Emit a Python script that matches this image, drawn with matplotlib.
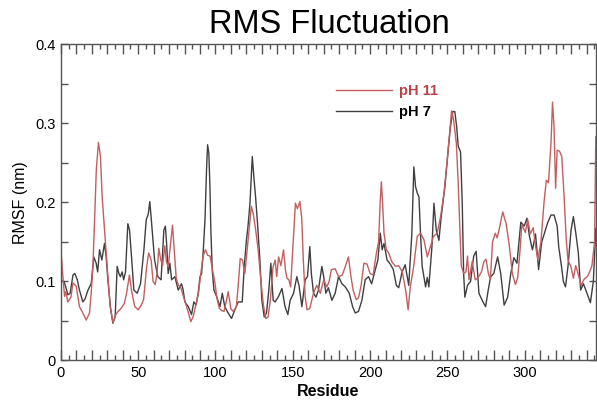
import matplotlib
matplotlib.use("Agg")
import matplotlib.pyplot as plt
from matplotlib.ticker import MultipleLocator, FuncFormatter

plt.rcParams["font.family"] = ["Liberation Sans", "DejaVu Sans"]

# pH 11 (red)
res_ph11 = [0, 1.3, 2.4, 3.2, 4.5, 6.5, 7.8, 9.9, 12, 14.2, 16.4, 18.5, 19.6, 20.7, 21.8, 22.9, 24.3, 25.6,
            26.7, 28.2, 29.3, 30.4, 31.9, 33.7, 35.5, 37, 39, 41, 42.5, 44.3, 46, 47.8, 50, 52, 53.5, 55.5,
            56.8, 58.4, 59.6, 61, 62.2, 63.3, 64.5, 65.8, 67.2, 68.3, 69.5, 70.5, 72.2, 73.3, 74.6, 76, 77.6,
            79.4, 81, 82.5, 84, 85.5, 87.5, 89, 90.5, 92, 93.5, 95, 96.5, 98, 99.5, 101, 102.5, 104, 105.5,
            107, 108.2, 110, 111.5, 113.5, 114.7, 116, 117.5, 119, 120.5, 121.8, 123.2, 124.5, 126, 127.6,
            129.5, 131, 132.5, 134, 135.5, 137.2, 138.6, 139.6, 140.8, 142.3, 144, 145.2, 146.2, 147.5,
            148.6, 150.3, 151.7, 153, 154.6, 155.8, 156.8, 158, 159.2, 161, 163.4, 165.5, 167.8, 170, 172,
            173.5, 175, 177.4, 179.6, 182, 184, 186, 187.5, 189, 191, 192.5, 194.2, 196, 198, 200, 202, 204,
            205.5, 206.5, 207.3, 208.2, 209, 210.5, 212, 214, 216.5, 218.5, 220.8, 223, 224.6, 226, 228.2,
            230.5, 232.6, 234.8, 237, 239, 241, 243.4, 245.6, 247.8, 249.9, 251.4, 252.7, 254, 255.8, 257,
            258, 259, 260.5, 262, 263, 264, 266, 268, 270, 272, 273.6, 275, 276.5, 277.8, 279.2, 281, 282.2,
            283.5, 285.8, 288, 290, 292, 294, 295.5, 296.8, 298.2, 300.4, 302, 303.6, 305.5, 307, 308.5,
            310.5, 312.5, 314, 315.4, 317, 318, 319, 320, 321, 322.5, 324, 325.7, 326.8, 328, 330, 331.5,
            333, 334.5, 336.5, 338.5, 340.5, 342, 343.5, 345.2, 346]
val_ph11 = [0.14, 0.106, 0.081, 0.087, 0.074, 0.080, 0.098, 0.094, 0.068, 0.060, 0.051, 0.060, 0.085, 0.119,
            0.178, 0.241, 0.276, 0.258, 0.207, 0.165, 0.136, 0.106, 0.068, 0.048, 0.058, 0.062, 0.066, 0.072,
            0.085, 0.108, 0.085, 0.068, 0.064, 0.070, 0.077, 0.119, 0.136, 0.127, 0.100, 0.096, 0.110, 0.142,
            0.128, 0.120, 0.145, 0.125, 0.118, 0.140, 0.171, 0.140, 0.104, 0.095, 0.092, 0.080, 0.070, 0.060,
            0.049, 0.055, 0.072, 0.085, 0.110, 0.132, 0.140, 0.133, 0.132, 0.115, 0.100, 0.078, 0.066, 0.063,
            0.062, 0.075, 0.087, 0.065, 0.062, 0.068, 0.095, 0.129, 0.127, 0.110, 0.140, 0.165, 0.195, 0.185,
            0.165, 0.140, 0.098, 0.070, 0.053, 0.055, 0.077, 0.118, 0.127, 0.106, 0.131, 0.120, 0.140, 0.115,
            0.104, 0.102, 0.093, 0.150, 0.199, 0.192, 0.201, 0.180, 0.127, 0.081, 0.064, 0.066, 0.085, 0.095,
            0.085, 0.102, 0.093, 0.100, 0.115, 0.116, 0.106, 0.108, 0.119, 0.131, 0.108, 0.089, 0.077, 0.079,
            0.095, 0.123, 0.122, 0.110, 0.108, 0.135, 0.150, 0.200, 0.226, 0.195, 0.161, 0.140, 0.136, 0.125,
            0.119, 0.120, 0.112, 0.089, 0.064, 0.093, 0.119, 0.157, 0.161, 0.153, 0.131, 0.144, 0.157, 0.161,
            0.182, 0.212, 0.254, 0.287, 0.316, 0.305, 0.275, 0.224, 0.170, 0.120, 0.110, 0.112, 0.132, 0.102,
            0.125, 0.102, 0.105, 0.112, 0.125, 0.128, 0.110, 0.102, 0.150, 0.161, 0.155, 0.166, 0.188, 0.173,
            0.146, 0.110, 0.096, 0.105, 0.135, 0.172, 0.162, 0.178, 0.160, 0.168, 0.145, 0.128, 0.150, 0.200,
            0.228, 0.225, 0.275, 0.327, 0.295, 0.218, 0.266, 0.265, 0.258, 0.200, 0.155, 0.127, 0.118, 0.104,
            0.120, 0.110, 0.095, 0.103, 0.106, 0.112, 0.120, 0.150, 0.283]

# pH 7 (black)
res_ph7 = [0, 2, 3, 4.5, 6, 7.8, 9, 10.6, 12, 14.2, 15.7, 17.5, 19.6, 21.3, 22.8, 23.8, 25, 26.5, 28.2, 29.3,
           30.4, 32, 33.6, 35.1, 36.4, 37.5, 38.5, 39.6, 40.6, 41.8, 43.3, 44.4, 45.5, 47.2, 49.4, 51.5, 53.7,
           55.2, 56.5, 57.5, 58.5, 60.6, 62.7, 64.8, 66.6, 67.6, 68.5, 69.4, 70.5, 71.6, 73.7, 75.9, 78, 79,
           80.2, 82.4, 84.5, 86, 87.4, 88.8, 90, 91, 92, 93.2, 94.2, 94.9, 95.7, 96.4, 97, 97.9, 99, 100.7,
           102.9, 104.4, 106, 108.2, 110.4, 112.5, 114.7, 117.3, 118.6, 120, 121, 122.3, 123.8, 125, 126,
           127.2, 128.7, 130, 131.5, 133, 134.5, 135.8, 137.3, 138.6, 140.8, 143, 145, 146.8, 148.3, 150.5,
           152.6, 154, 155.9, 158, 159.5, 161, 162, 163.4, 165, 166.6, 168.8, 170, 171.4, 173, 175.3, 177.4,
           179.6, 181.8, 184, 186.5, 188.7, 190.4, 192.5, 194.7, 196.8, 199, 201, 203.3, 205, 206.6, 207.8,
           209, 211, 213, 215, 217, 218.5, 220.7, 222.7, 225, 227, 228.3, 229.4, 230.5, 231.6, 232.6, 233.7,
           235.9, 237, 238, 240, 241.3, 242.8, 244.5, 246, 248.4, 250.5, 252, 253.5, 254.8, 256, 257, 258.5,
           259.6, 260.5, 261.3, 263, 265, 267, 268.6, 270.4, 272.5, 274.7, 276.5, 278, 280, 282.5, 284.5,
           286.7, 289, 291, 293, 295, 297.5, 299.7, 301.5, 303, 305, 307, 309, 311, 312.8, 314.8, 317, 319,
           321, 322, 323.8, 325, 326.4, 328, 330, 331.5, 333, 334.7, 336.2, 338, 340.3, 342.5, 344.4, 346]
val_ph7 = [0.100, 0.100, 0.094, 0.083, 0.085, 0.108, 0.110, 0.102, 0.089, 0.074, 0.078, 0.089, 0.097, 0.131,
           0.123, 0.112, 0.140, 0.127, 0.148, 0.131, 0.102, 0.068, 0.047, 0.055, 0.119, 0.110, 0.106, 0.112,
           0.102, 0.112, 0.173, 0.165, 0.136, 0.089, 0.085, 0.097, 0.140, 0.178, 0.185, 0.201, 0.178, 0.127,
           0.106, 0.102, 0.165, 0.170, 0.144, 0.110, 0.123, 0.102, 0.106, 0.089, 0.097, 0.090, 0.074, 0.068,
           0.058, 0.074, 0.070, 0.085, 0.106, 0.110, 0.136, 0.178, 0.241, 0.273, 0.262, 0.220, 0.165, 0.114,
           0.089, 0.081, 0.068, 0.085, 0.068, 0.060, 0.053, 0.064, 0.074, 0.074, 0.119, 0.152, 0.169, 0.199,
           0.258, 0.228, 0.205, 0.173, 0.127, 0.076, 0.055, 0.060, 0.089, 0.123, 0.076, 0.074, 0.081, 0.091,
           0.068, 0.058, 0.076, 0.085, 0.106, 0.095, 0.068, 0.102, 0.106, 0.144, 0.110, 0.085, 0.080, 0.089,
           0.119, 0.106, 0.085, 0.092, 0.076, 0.085, 0.106, 0.097, 0.093, 0.085, 0.068, 0.060, 0.062, 0.076,
           0.102, 0.106, 0.097, 0.114, 0.127, 0.161, 0.140, 0.148, 0.127, 0.122, 0.115, 0.095, 0.092, 0.112,
           0.121, 0.095, 0.160, 0.245, 0.220, 0.212, 0.207, 0.161, 0.119, 0.093, 0.105, 0.093, 0.144, 0.199,
           0.165, 0.152, 0.182, 0.220, 0.266, 0.296, 0.315, 0.315, 0.296, 0.271, 0.264, 0.200, 0.110, 0.080,
           0.095, 0.100, 0.132, 0.138, 0.085, 0.076, 0.068, 0.090, 0.106, 0.110, 0.131, 0.110, 0.070, 0.080,
           0.110, 0.130, 0.123, 0.175, 0.170, 0.180, 0.158, 0.140, 0.160, 0.115, 0.150, 0.161, 0.174, 0.184,
           0.184, 0.170, 0.144, 0.119, 0.100, 0.093, 0.119, 0.165, 0.182, 0.162, 0.136, 0.089, 0.097, 0.085,
           0.073, 0.100, 0.167]

x_label_ticks = [0, 50, 100, 150, 200, 250, 300]
y_ticks = [0, 0.1, 0.2, 0.3, 0.4]

fig = plt.figure(figsize=(5.97, 4.04), dpi=100)
ax = fig.add_axes([0.102, 0.108, 0.896, 0.782])

ax.plot(res_ph7, val_ph7, color="#3f3f3f", lw=1.0, label="pH 7")
ax.plot(res_ph11, val_ph11, color="#c25f60", lw=1.0, label="pH 11")

ax.set_xlim(0, 346)
ax.set_ylim(0, 0.4)

ax.xaxis.set_major_locator(MultipleLocator(10))
ax.xaxis.set_minor_locator(MultipleLocator(5))
ax.xaxis.set_major_formatter(FuncFormatter(lambda v, p: f"{int(round(v))}" if int(round(v)) in x_label_ticks else ""))
ax.set_yticks(y_ticks)
ax.set_yticklabels(["0", "0.1", "0.2", "0.3", "0.4"])
ax.yaxis.set_minor_locator(MultipleLocator(0.05))

ax.tick_params(axis="x", which="major", direction="in", length=7, width=1, color="#555555",
               top=True, bottom=True, labelsize=10.5, pad=4)
ax.tick_params(axis="x", which="minor", direction="in", length=3.5, width=1, color="#555555",
               top=True, bottom=True)
ax.tick_params(axis="y", which="both", direction="in", length=5, width=1, color="#555555",
               left=True, right=True, labelsize=10.5, pad=4)

for s in ax.spines.values():
    s.set_color("#555555")
    s.set_linewidth(1.0)

ax.set_xlabel("Residue", fontsize=11.5, fontweight="bold", labelpad=3)
ax.set_ylabel("RMSF (nm)", fontsize=11.5, labelpad=5)
fig.suptitle("RMS Fluctuation", fontsize=23.5, x=0.552, y=0.978)

handles, labels = ax.get_legend_handles_labels()
leg = ax.legend(handles[::-1], labels[::-1], loc="upper left", bbox_to_anchor=(0.49, 0.915),
                frameon=False, handlelength=3.8, handletextpad=0.5, labelspacing=0.45,
                prop={"weight": "bold", "size": 10.5})
leg.get_texts()[0].set_color("#c0404a")
leg.get_texts()[1].set_color("black")

fig.savefig("out.png", dpi=100)
